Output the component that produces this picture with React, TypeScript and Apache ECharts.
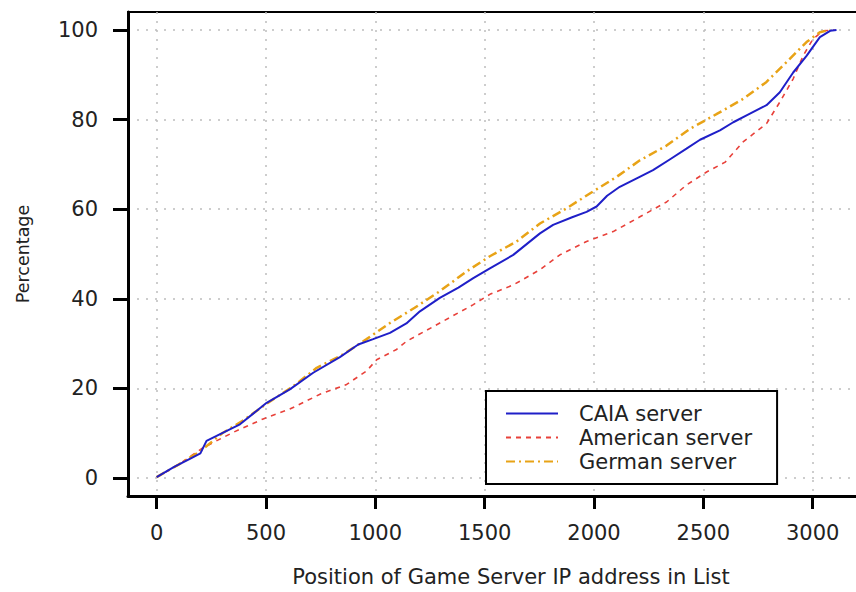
import React, { useEffect, useRef } from "react";
import * as echarts from "echarts";

const xTickValues = [0, 500, 1000, 1500, 2000, 2500, 3000];
const yTickValues = [0, 20, 40, 60, 80, 100];
const seriesNames = ["CAIA server", "American server", "German server"];
const xAxisTitle = "Position of Game Server IP address in List";
const yAxisTitle = "Percentage";

const caiaPos = [0, 80, 152, 200, 228, 274, 381, 503, 609, 716, 838, 922, 990, 1067, 1142, 1204, 1295, 1380, 1448, 1524, 1631, 1753, 1813, 1900, 1966, 2012, 2060, 2118, 2200, 2270, 2350, 2423, 2485, 2576, 2637, 2700, 2789, 2850, 2911, 2972, 3033, 3080, 3109];
const caiaPct = [0.2, 2.5, 4.3, 5.5, 8.3, 9.4, 12, 16.8, 19.8, 23.5, 27, 29.8, 31, 32.4, 34.5, 37.2, 40.2, 42.5, 44.6, 46.8, 49.8, 54.6, 56.5, 58.2, 59.4, 60.6, 63, 65, 67, 68.7, 71.2, 73.5, 75.5, 77.6, 79.4, 81, 83.2, 86.1, 90.5, 94.2, 98.4, 99.8, 100];

const americanPos = [0, 100, 213, 350, 487, 609, 747, 869, 960, 1006, 1097, 1142, 1295, 1448, 1524, 1631, 1753, 1844, 1966, 2088, 2210, 2332, 2423, 2515, 2600, 2682, 2789, 2850, 2911, 2957, 3002, 3048, 3100];
const americanPct = [0.2, 3, 6.8, 10.2, 13.2, 15.4, 18.7, 20.9, 23.9, 26.4, 28.7, 30.5, 34.6, 38.7, 41, 43.1, 46.5, 49.8, 52.8, 55, 58.3, 61.6, 65.4, 68.3, 70.5, 75, 79.1, 83.9, 89.1, 94.3, 98, 99.8, 100];

const germanPos = [0, 100, 200, 300, 400, 500, 625, 732, 853, 960, 1067, 1180, 1295, 1417, 1524, 1646, 1753, 1875, 1981, 2103, 2210, 2332, 2438, 2560, 2682, 2789, 2880, 2972, 3033, 3080];
const germanPct = [0.2, 3, 6, 10, 13, 16.5, 20.5, 24.6, 27.6, 31, 34.6, 38, 41.7, 46.1, 49.5, 52.8, 56.8, 60.2, 63.5, 67.2, 70.9, 74.2, 77.9, 81.2, 84.6, 88.4, 92.8, 97.3, 99.5, 100];

const zip = (xs: number[], ys: number[]) => xs.map((x, i) => [x, ys[i]]);

export default function App() {
  const ref = useRef<HTMLDivElement>(null);
  useEffect(() => {
    const chart = echarts.init(ref.current!, null, { renderer: "svg" });
    const font = "'DejaVu Sans', sans-serif";
    const gridLine = { show: true, lineStyle: { color: "#bdbdbd", width: 1.5, type: [2, 7] } };
    const plain = (v: number) => String(v);
    chart.setOption({
      animation: false,
      backgroundColor: "#fff",
      grid: {
        left: 128,
        top: 12,
        width: 766,
        height: 487,
        show: true,
        borderColor: "#000",
        borderWidth: 2,
        containLabel: false,
      },
      legend: {
        orient: "vertical",
        left: 486,
        top: 391,
        data: seriesNames,
        itemWidth: 52,
        itemHeight: 14,
        itemGap: 3,
        padding: [12, 25, 12, 19],
        backgroundColor: "#fff",
        borderColor: "#000",
        borderWidth: 2,
        borderRadius: 0,
        selectedMode: false,
        itemStyle: { opacity: 0 },
        textStyle: { fontFamily: font, fontSize: 21, color: "#222", lineHeight: 18, padding: [0, 0, 0, 16] },
      },
      xAxis: {
        type: "value",
        min: -131,
        max: 3372,
        name: xAxisTitle,
        nameLocation: "middle",
        nameGap: 70,
        nameTextStyle: { fontFamily: font, fontSize: 21, color: "#222" },
        axisLine: { show: true, onZero: false, lineStyle: { color: "#000", width: 3 } },
        axisTick: { show: true, customValues: xTickValues, length: 13, lineStyle: { color: "#000", width: 3 } },
        axisLabel: { customValues: xTickValues, margin: 26, fontFamily: font, fontSize: 21, color: "#222", formatter: plain },
        splitLine: gridLine,
      },
      yAxis: {
        type: "value",
        min: -4,
        max: 104,
        name: yAxisTitle,
        nameLocation: "middle",
        nameGap: 96,
        nameRotate: 90,
        nameTextStyle: { fontFamily: font, fontSize: 17.5, color: "#222" },
        axisLine: { show: true, onZero: false, lineStyle: { color: "#000", width: 3 } },
        axisTick: { show: true, customValues: yTickValues, length: 15, lineStyle: { color: "#000", width: 3 } },
        axisLabel: { customValues: yTickValues, margin: 30, fontFamily: font, fontSize: 21, color: "#222", formatter: plain },
        splitLine: gridLine,
      },
      series: [
        {
          name: seriesNames[0],
          type: "line",
          data: zip(caiaPos, caiaPct),
          showSymbol: false,
          symbol: "none",
          lineStyle: { color: "#1f1fc8", width: 2, type: "solid" },
          itemStyle: { color: "#1f1fc8" },
          z: 3,
        },
        {
          name: seriesNames[1],
          type: "line",
          data: zip(americanPos, americanPct),
          showSymbol: false,
          symbol: "none",
          lineStyle: { color: "#e8413a", width: 1.6, type: [5, 5] },
          itemStyle: { color: "#e8413a" },
          z: 2,
        },
        {
          name: seriesNames[2],
          type: "line",
          data: zip(germanPos, germanPct),
          showSymbol: false,
          symbol: "none",
          lineStyle: { color: "#e8a317", width: 2.5, type: [9, 4, 2, 4] },
          itemStyle: { color: "#e8a317" },
          z: 2,
        },
      ],
    });
    return () => chart.dispose();
  }, []);
  return (
    <div style={{ position: "absolute", left: 0, top: 0, width: 856, height: 592, overflow: "hidden", background: "#fff" }}>
      <div ref={ref} style={{ position: "absolute", left: 0, top: 0, width: 900, height: 592 }} />
    </div>
  );
}
